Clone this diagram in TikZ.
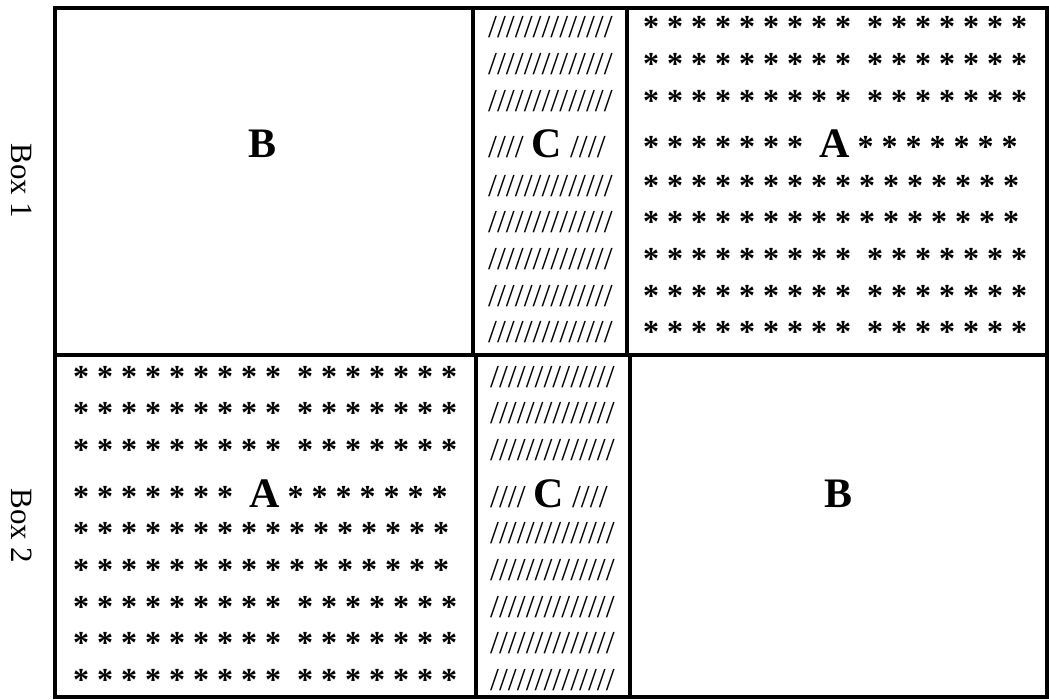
\documentclass[tikz,border=0pt]{standalone}
\usepackage{fontspec}
\setmainfont{Liberation Serif}
\usepackage{tikz}
\usetikzlibrary{positioning}

\newcommand{\letr}[1]{{\fontsize{42}{46}\selectfont\bfseries #1}}
\newcommand{\gaprow}{* * * * * * * * *~~* * * * * * *}
\newcommand{\fullrow}{* * * * * * * * * * * * * * * *}
\newcommand{\arow}{* * * * * * *~~\letr{A} * * * * * * *}
\newcommand{\slrow}{//////////////}
\newcommand{\crow}{//// \letr{C} ////}

\tikzset{
  frame/.style={line width=3.2pt},
  row/.style={anchor=base west,inner sep=0pt,font=\fontsize{32}{36}\selectfont},
  starrow/.style={row,font=\fontsize{32}{36}\selectfont\bfseries},
  letter/.style={anchor=base,inner sep=0pt,font=\fontsize{42}{46}\selectfont\bfseries},
  boxlabel/.style={rotate=-90,inner sep=0pt,font=\fontsize{31}{34}\selectfont}
}

\begin{document}
\begin{tikzpicture}[x=1pt,y=-1pt]
  \useasboundingbox (0,0) rectangle (1049,700);

  % Box 1
  \draw[frame] (55,8) rectangle (1047,355);
  \draw[frame] (473,8) -- (473,355);
  \draw[frame] (627,8) -- (627,355);
  \node[boxlabel] (box1) at (22,181) {Box 1};
  \node[letter] (b1) at (263,158) {B};
  \foreach \y/\txt [count=\i] in {38/\slrow,75/\slrow,112/\slrow,158/\crow,197/\slrow,233/\slrow,270/\slrow,307/\slrow,342/\slrow}
    \node[row] (c1-\i) at (488,\y) {\txt};
  \foreach \y/\txt [count=\i] in {38/\gaprow,75/\gaprow,112/\gaprow,158/\arow,197/\fullrow,233/\fullrow,270/\gaprow,307/\gaprow,342/\gaprow}
    \node[starrow] (a1-\i) at (643,\y) {\txt};

  % Box 2
  \draw[frame] (55,355) rectangle (1047,697);
  \draw[frame] (476,355) -- (476,697);
  \draw[frame] (630,355) -- (630,697);
  \node[boxlabel] (box2) at (22,526) {Box 2};
  \node[letter] (b2) at (838,507) {B};
  \foreach \y/\txt [count=\i] in {387/\slrow,423/\slrow,460/\slrow,507/\crow,543/\slrow,580/\slrow,617/\slrow,653/\slrow,690/\slrow}
    \node[row] (c2-\i) at (490,\y) {\txt};
  \foreach \y/\txt [count=\i] in {387/\gaprow,423/\gaprow,460/\gaprow,507/\arow,543/\fullrow,580/\fullrow,617/\gaprow,653/\gaprow,690/\gaprow}
    \node[starrow] (a2-\i) at (73,\y) {\txt};
\end{tikzpicture}
\end{document}
